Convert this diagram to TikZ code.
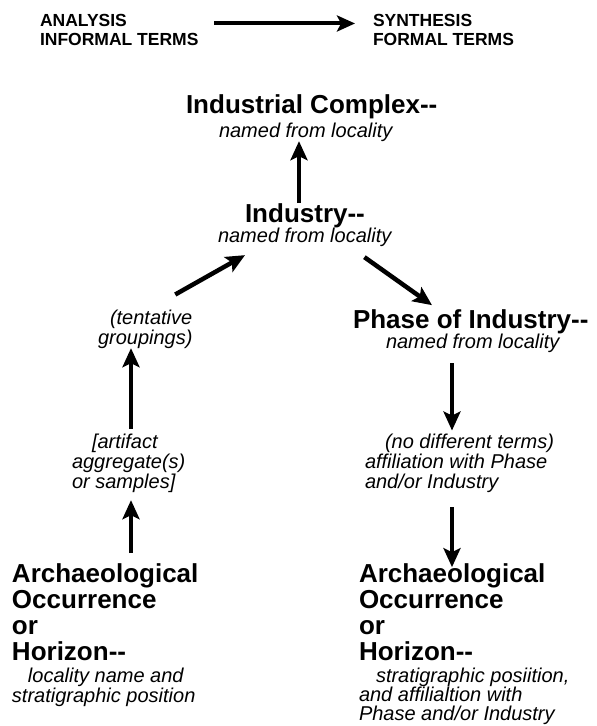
\documentclass[tikz,border=0pt]{standalone}
\usepackage{fontspec}
\setmainfont{Liberation Sans}
\usetikzlibrary{arrows.meta,calc}
\begin{document}
\begin{tikzpicture}[x=1pt,y=-1pt,
  txt/.style={inner sep=0pt,outer sep=0pt,anchor=base west,align=left},
  head/.style={txt,font=\fontsize{17.5}{19}\selectfont\bfseries},
  big/.style={txt,font=\fontsize{26}{26}\selectfont\bfseries},
  sub/.style={txt,font=\fontsize{20}{20}\selectfont\itshape},
  sublow/.style={txt,font=\fontsize{20}{19}\selectfont\itshape},
  arr/.style={line width=4.5pt,-{Stealth[length=19pt,width=17pt,inset=4pt]}},
  harr/.style={line width=4pt,-{Stealth[length=18pt,width=16pt,inset=4pt]}}]
\useasboundingbox (0,0) rectangle (597,726);

% multi-line nodes are placed by the baseline of their last line
\node[head] (analysis) at (40,45) {ANALYSIS\\INFORMAL TERMS};
\node[head] (synthesis) at (373,45) {SYNTHESIS\\FORMAL TERMS};

\node[big] (ic) at (186,113) {Industrial Complex-{}-};
\node[sub] (icsub) at (219,137) {named from locality};
\node[big] (ind) at (245,222) {Industry-{}-};
\node[sub] (indsub) at (218,242) {named from locality};

\node[sub] (tent) at (98,344) {\hspace*{12pt}(tentative\\groupings)};
\node[sub] (art) at (72,488) {\hspace*{20pt}[artifact\\aggregate(s)\\or samples]};

\node[big] (phase) at (353,328) {Phase of Industry-{}-};
\node[sub] (phasesub) at (386,348) {named from locality};
\node[sub] (nodiff) at (365,488) {\hspace*{20pt}(no different terms)\\affiliation with Phase\\and/or Industry};

\node[big] (archL) at (12,660) {Archaeological\\Occurrence\\or\\Horizon-{}-};
\node[sub] (archLsub) at (12,702) {\hspace*{16pt}locality name and\\stratigraphic position};

\node[big] (archR) at (359,660) {Archaeological\\Occurrence\\or\\Horizon-{}-};
\node[sublow] (archRsub) at (359,720) {\hspace*{17pt}stratigraphic posiition,\\and affilialtion with\\Phase and/or Industry};

% connectors
\draw[harr] ($(analysis.east)+(16,-6)$) -- ($(synthesis.west)+(-18,-6)$);
\draw[arr] (ind.north -| 299,0) -- (icsub.south -| 299,0);
\draw[arr] ($(tent.north)+(30,-15)$) -- ($(indsub.south west)+(27,9)$);
\draw[arr] ($(indsub.south east)+(-27,11)$) -- ($(phase.north west)+(79,-4)$);
\draw[arr,shorten <=5pt] (art.north -| 131,0) -- (tent.south -| 131,0);
\draw[arr,shorten <=10pt,shorten >=8pt] (archL.north -| 131,0) -- (art.south -| 131,0);
\draw[arr,shorten <=11pt,shorten >=3pt] (phasesub.south -| 452,0) -- (nodiff.north -| 452,0);
\draw[arr,shorten <=15pt,shorten >=-4pt] (nodiff.south -| 452,0) -- (archR.north -| 452,0);
\end{tikzpicture}
\end{document}
